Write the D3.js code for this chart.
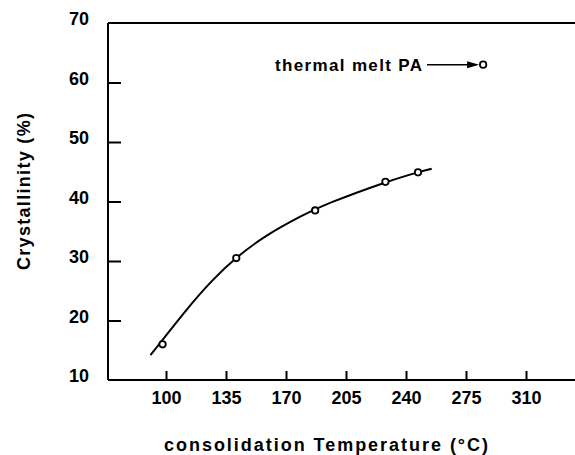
<!DOCTYPE html>
<html>
<head>
<meta charset="utf-8">
<script src="https://cdn.jsdelivr.net/npm/d3@7"></script>
<style>
  body { margin: 0; background: #fff; }
  text { font-family: "Liberation Sans", Arial, sans-serif; font-weight: bold; fill: #000; }
</style>
</head>
<body>
<div id="chart"></div>
<script>
// measured points
const temps = [98, 141, 187, 228, 247];
const cryst = [16, 30.5, 38.5, 43.3, 44.9];
// fitted curve
const fitTemps = [91, 112, 127, 141, 159, 178, 196, 228, 247, 255];
const fitCryst = [14.2, 21.8, 26.7, 30.5, 34.3, 37.4, 39.8, 43.2, 44.9, 45.5];
// thermal melt PA
const meltTemp = 285;
const meltCryst = 63;

const xTicks = [100, 135, 170, 205, 240, 275, 310];
const yTicks = [10, 20, 30, 40, 50, 60, 70];

function init() {
    let width = 575;
    let height = 455;
    let left = 108, right = 575, top = 23, bottom = 380;

    let svg = d3.select("#chart")
        .append("svg")
        .attr("width", width)
        .attr("height", height);

    let xScale = d3.scaleLinear().domain([100, 310]).range([166, 526]);
    let yScale = d3.scaleLinear().domain([10, 70]).range([bottom, top]);

    // frame: left, bottom, top lines
    let frame = svg.append("g").attr("stroke", "#000").attr("stroke-width", 2);
    frame.append("line").attr("x1", left).attr("x2", left).attr("y1", top).attr("y2", bottom);
    frame.append("line").attr("x1", left).attr("x2", right).attr("y1", bottom).attr("y2", bottom);
    frame.append("line").attr("x1", left).attr("x2", right).attr("y1", top).attr("y2", top);

    // y axis
    let yAxis = svg.append("g")
        .attr("transform", "translate(" + left + ",0)")
        .call(d3.axisLeft(yScale).tickValues(yTicks).tickSize(-13).tickSizeOuter(0).tickPadding(19));
    yAxis.select(".domain").remove();
    yAxis.selectAll("line").attr("stroke-width", 2);
    yAxis.selectAll("text")
        .attr("y", -4)
        .style("font-size", "18px");
    yAxis.selectAll(".tick").filter(d => d == 10 || d == 70).select("line").remove();

    // x axis
    let xAxis = svg.append("g")
        .attr("transform", "translate(0," + bottom + ")")
        .call(d3.axisBottom(xScale).tickValues(xTicks).tickSize(-9).tickSizeOuter(0).tickPadding(11));
    xAxis.select(".domain").remove();
    xAxis.selectAll("line").attr("stroke-width", 2);
    xAxis.selectAll("text").style("font-size", "18px");

    // axis titles
    svg.append("text")
        .attr("x", 164)
        .attr("y", 451)
        .attr("textLength", 324)
        .attr("lengthAdjust", "spacing")
        .style("font-size", "18px")
        .text("consolidation Temperature (°C)");

    svg.append("text")
        .attr("transform", "translate(30,270) rotate(-90)")
        .attr("textLength", 157)
        .attr("lengthAdjust", "spacing")
        .style("font-size", "18px")
        .text("Crystallinity (%)");

    // fitted curve
    let fit = fitTemps.map((t, i) => ({ x: t, y: fitCryst[i] }));
    svg.append("path")
        .datum(fit)
        .attr("fill", "none")
        .attr("stroke", "#000")
        .attr("stroke-width", 2)
        .attr("d", d3.line().curve(d3.curveNatural)
            .x(d => xScale(d.x))
            .y(d => yScale(d.y)));

    // data points
    let pts = temps.map((t, i) => ({ x: t, y: cryst[i] }));
    svg.selectAll(".pt")
        .data(pts.concat([{ x: meltTemp, y: meltCryst }]))
        .enter().append("circle")
        .attr("class", "pt")
        .attr("cx", d => xScale(d.x))
        .attr("cy", d => yScale(d.y))
        .attr("r", 3.2)
        .attr("fill", "#fff")
        .attr("stroke", "#000")
        .attr("stroke-width", 1.8);

    // annotation with arrow
    let mx = xScale(meltTemp), my = yScale(meltCryst);
    svg.append("text")
        .attr("x", 275)
        .attr("y", my + 6)
        .attr("textLength", 147)
        .attr("lengthAdjust", "spacing")
        .style("font-size", "17px")
        .text("thermal melt PA");
    svg.append("line")
        .attr("x1", 427).attr("x2", mx - 12)
        .attr("y1", my).attr("y2", my)
        .attr("stroke", "#000").attr("stroke-width", 1.5);
    svg.append("path")
        .attr("d", "M" + (mx - 16) + "," + (my - 3.5) + "L" + (mx - 4) + "," + my + "L" + (mx - 16) + "," + (my + 3.5) + "Z")
        .attr("fill", "#000");
}

window.addEventListener('load', init);
</script>
</body>
</html>
